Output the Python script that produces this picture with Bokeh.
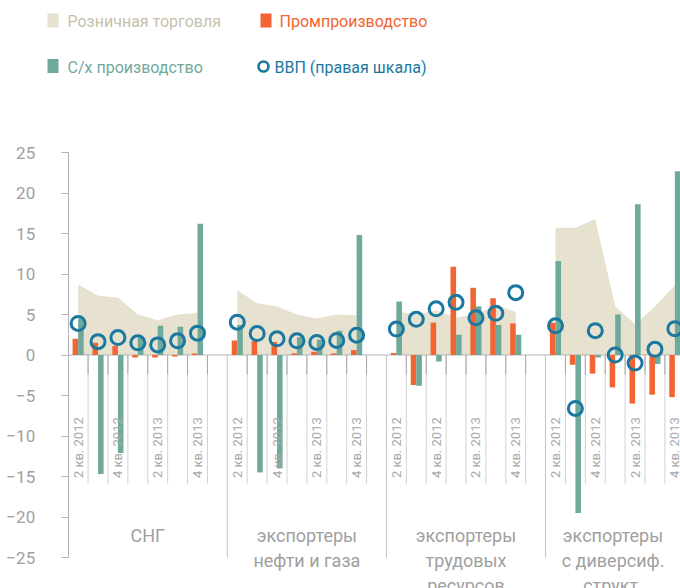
import math
from bokeh.plotting import figure
from bokeh.models import Range1d, FixedTicker
from bokeh.core.properties import value
from bokeh.embed import file_html
from bokeh.resources import INLINE

# ---------------- data ----------------
quarters = ["2 кв. 2012", "3 кв. 2012", "4 кв. 2012", "1 кв. 2013",
            "2 кв. 2013", "3 кв. 2013", "4 кв. 2013"]
groups = ["СНГ", "экспортеры\nнефти и газа", "экспортеры\nтрудовых\nресурсов",
          "экспортеры\nс диверсиф.\nструкт."]
series_names = ["Розничная торговля", "Промпроизводство", "С/х производство",
                "ВВП (правая шкала)"]

retail = [
    [8.7, 7.3, 7.1, 5.0, 4.3, 5.0, 5.2],
    [8.0, 6.4, 6.0, 5.0, 4.5, 5.0, 4.9],
    [5.4, 5.0, 5.5, 4.6, 5.0, 6.2, 5.3],
    [15.7, 15.7, 16.8, 6.0, 3.8, 6.0, 8.6],
]
industry = [
    [2.0, 1.5, 1.1, -0.3, -0.3, -0.2, 0.2],
    [1.8, 1.7, 1.6, 0.2, 0.4, 0.2, 0.6],
    [0.25, -3.7, 4.0, 10.9, 8.3, 7.0, 3.9],
    [4.0, -1.2, -2.3, -4.0, -6.0, -4.9, -5.2],
]
agri = [
    [4.5, -14.7, -12.1, 2.2, 3.6, 3.5, 16.2],
    [3.7, -14.5, -14.0, 2.2, 1.9, 3.0, 14.8],
    [6.6, -3.8, -0.8, 2.5, 6.0, 3.7, 2.5],
    [11.6, -19.5, -0.3, 5.0, 18.6, -1.1, 22.7],
]
gdp = [
    [3.9, 1.65, 2.15, 1.5, 1.25, 1.75, 2.7],
    [4.05, 2.65, 2.0, 1.75, 1.55, 1.8, 2.45],
    [3.2, 4.4, 5.7, 6.5, 4.6, 5.15, 7.7],
    [3.6, -6.6, 3.0, 0.0, -1.0, 0.7, 3.25],
]
y_ticks = [-25, -20, -15, -10, -5, 0, 5, 10, 15, 20, 25]

# ---------------- style / layout ----------------
C_RETAIL = "#e6e2cf"
C_RETAIL_TXT = "#c6c1ac"
C_IND = "#f26532"
C_AGRI = "#6fa99b"
C_GDP = "#1a78a0"
C_AXIS = "#b4b4b4"
C_TXT = "#a0a0a0"
FONT = value("Roboto")

W, H = 680, 588
AXIS_PX = 67.7        # horizontal pixel of the value axis
SLOT_PX = 19.89       # pixels per quarter slot
UNIT_PX = 8.1         # pixels per percentage point
TOP25_PX = 152        # pixel row of the 25 tick
SLOTS = 8             # slots per group (7 quarters + 1 gap)
BW = 0.28

X0 = -AXIS_PX / SLOT_PX
X_END = X0 + W / SLOT_PX
Y_END = 25 + TOP25_PX / UNIT_PX
Y0 = Y_END - H / UNIT_PX


def px2x(px):
    return X0 + px / SLOT_PX


def py2y(py):
    return Y_END - py / UNIT_PX


p = figure(width=W, height=H, x_range=Range1d(X0, X_END), y_range=Range1d(Y0, Y_END),
           output_backend="svg", toolbar_location=None, x_axis_type=None,
           min_border=0, min_border_left=0, min_border_top=0, min_border_bottom=0,
           min_border_right=0)
p.outline_line_color = None
for g in p.ygrid:
    g.grid_line_color = None

ax = p.yaxis[0]
ax.fixed_location = 0
ax.ticker = FixedTicker(ticks=y_ticks)
ax.bounds = (-25, 25)
ax.axis_line_color = C_AXIS
ax.major_tick_line_color = C_AXIS
ax.major_tick_out = 7
ax.major_tick_in = 0
ax.minor_tick_line_color = None
ax.major_label_text_font = "Roboto"
ax.major_label_text_font_size = "17px"
ax.major_label_text_color = C_TXT
ax.major_label_standoff = 26

# guide lines below zero
short_x, long_x = [], []
for gi in range(len(groups)):
    g0 = gi * SLOTS
    if gi > 0:
        long_x.append(g0)
    for k in range(1, SLOTS):
        short_x.append(g0 + k)
p.segment(x0=short_x, y0=[0] * len(short_x), x1=short_x, y1=[-15.9] * len(short_x),
          line_color="#d2d2d2", line_width=1)
p.segment(x0=short_x, y0=[0] * len(short_x), x1=short_x, y1=[-2.4] * len(short_x),
          line_color="#a8a8a8", line_width=1)
p.segment(x0=long_x, y0=[0] * len(long_x), x1=long_x, y1=[-25] * len(long_x),
          line_color="#c4c4c4", line_width=1)

for gi in range(len(groups)):
    g0 = gi * SLOTS
    xs = [g0 + s + 0.5 for s in range(len(quarters))]
    p.varea(x=xs, y1=[0] * len(xs), y2=retail[gi], fill_color=C_RETAIL)

p.segment(x0=[0], y0=[0], x1=[X_END], y1=[0], line_color=C_AXIS, line_width=1.2)

for gi in range(len(groups)):
    g0 = gi * SLOTS
    xs = [g0 + s + 0.5 for s in range(len(quarters))]
    p.vbar(x=[x - BW / 2 for x in xs], top=industry[gi], bottom=0, width=BW,
           fill_color=C_IND, line_color=None)
    p.vbar(x=[x + BW / 2 for x in xs], top=agri[gi], bottom=0, width=BW,
           fill_color=C_AGRI, line_color=None)

for gi in range(len(groups)):
    g0 = gi * SLOTS
    xs = [g0 + s + 0.5 for s in range(len(quarters))]
    p.scatter(x=xs, y=gdp[gi], size=14, marker="circle", fill_color=None,
              line_color=C_GDP, line_width=3)

# quarter labels (every other quarter)
qx, qt = [], []
for gi in range(len(groups)):
    g0 = gi * SLOTS
    for s in range(0, len(quarters), 2):
        qx.append(g0 + s + 0.5)
        qt.append(quarters[s])
p.text(x=qx, y=[-15.2] * len(qx), text=qt, angle=math.pi / 2, text_font=FONT,
       text_font_size="13px", text_color="#a8a8a8", text_align="left",
       text_baseline="middle")

# group labels
gx, gy, gt = [], [], []
for gi, name in enumerate(groups):
    g0 = gi * SLOTS
    cx = (g0 + min(g0 + SLOTS, X_END)) / 2
    for li, line in enumerate(name.split("\n")):
        gx.append(cx)
        gy.append(-22.3 - li * 3.09)
        gt.append(line)
p.text(x=gx, y=gy, text=gt, text_font=FONT, text_font_size="18px",
       text_color=C_TXT, text_align="center", text_baseline="alphabetic")

# ---------------- legend (keys in their own colours) ----------------
p.rect(x=[px2x(52.5), px2x(265.5), px2x(52.5)],
       y=[py2y(20), py2y(20), py2y(65.5)],
       width=11, height=14, width_units="screen", height_units="screen",
       fill_color=[C_RETAIL, C_IND, C_AGRI], line_color=None)
p.scatter(x=[px2x(263)], y=[py2y(66)], size=10, marker="circle", fill_color=None,
          line_color=C_GDP, line_width=2.6)
p.text(x=[px2x(67), px2x(279), px2x(67), px2x(274)],
       y=[py2y(21), py2y(21), py2y(66.5), py2y(66.5)], text=series_names,
       text_color=[C_RETAIL_TXT, C_IND, C_AGRI, C_GDP], text_font=FONT,
       text_font_size="16px", text_baseline="middle", text_align="left")

open("out.html", "w").write(file_html(p, INLINE))
